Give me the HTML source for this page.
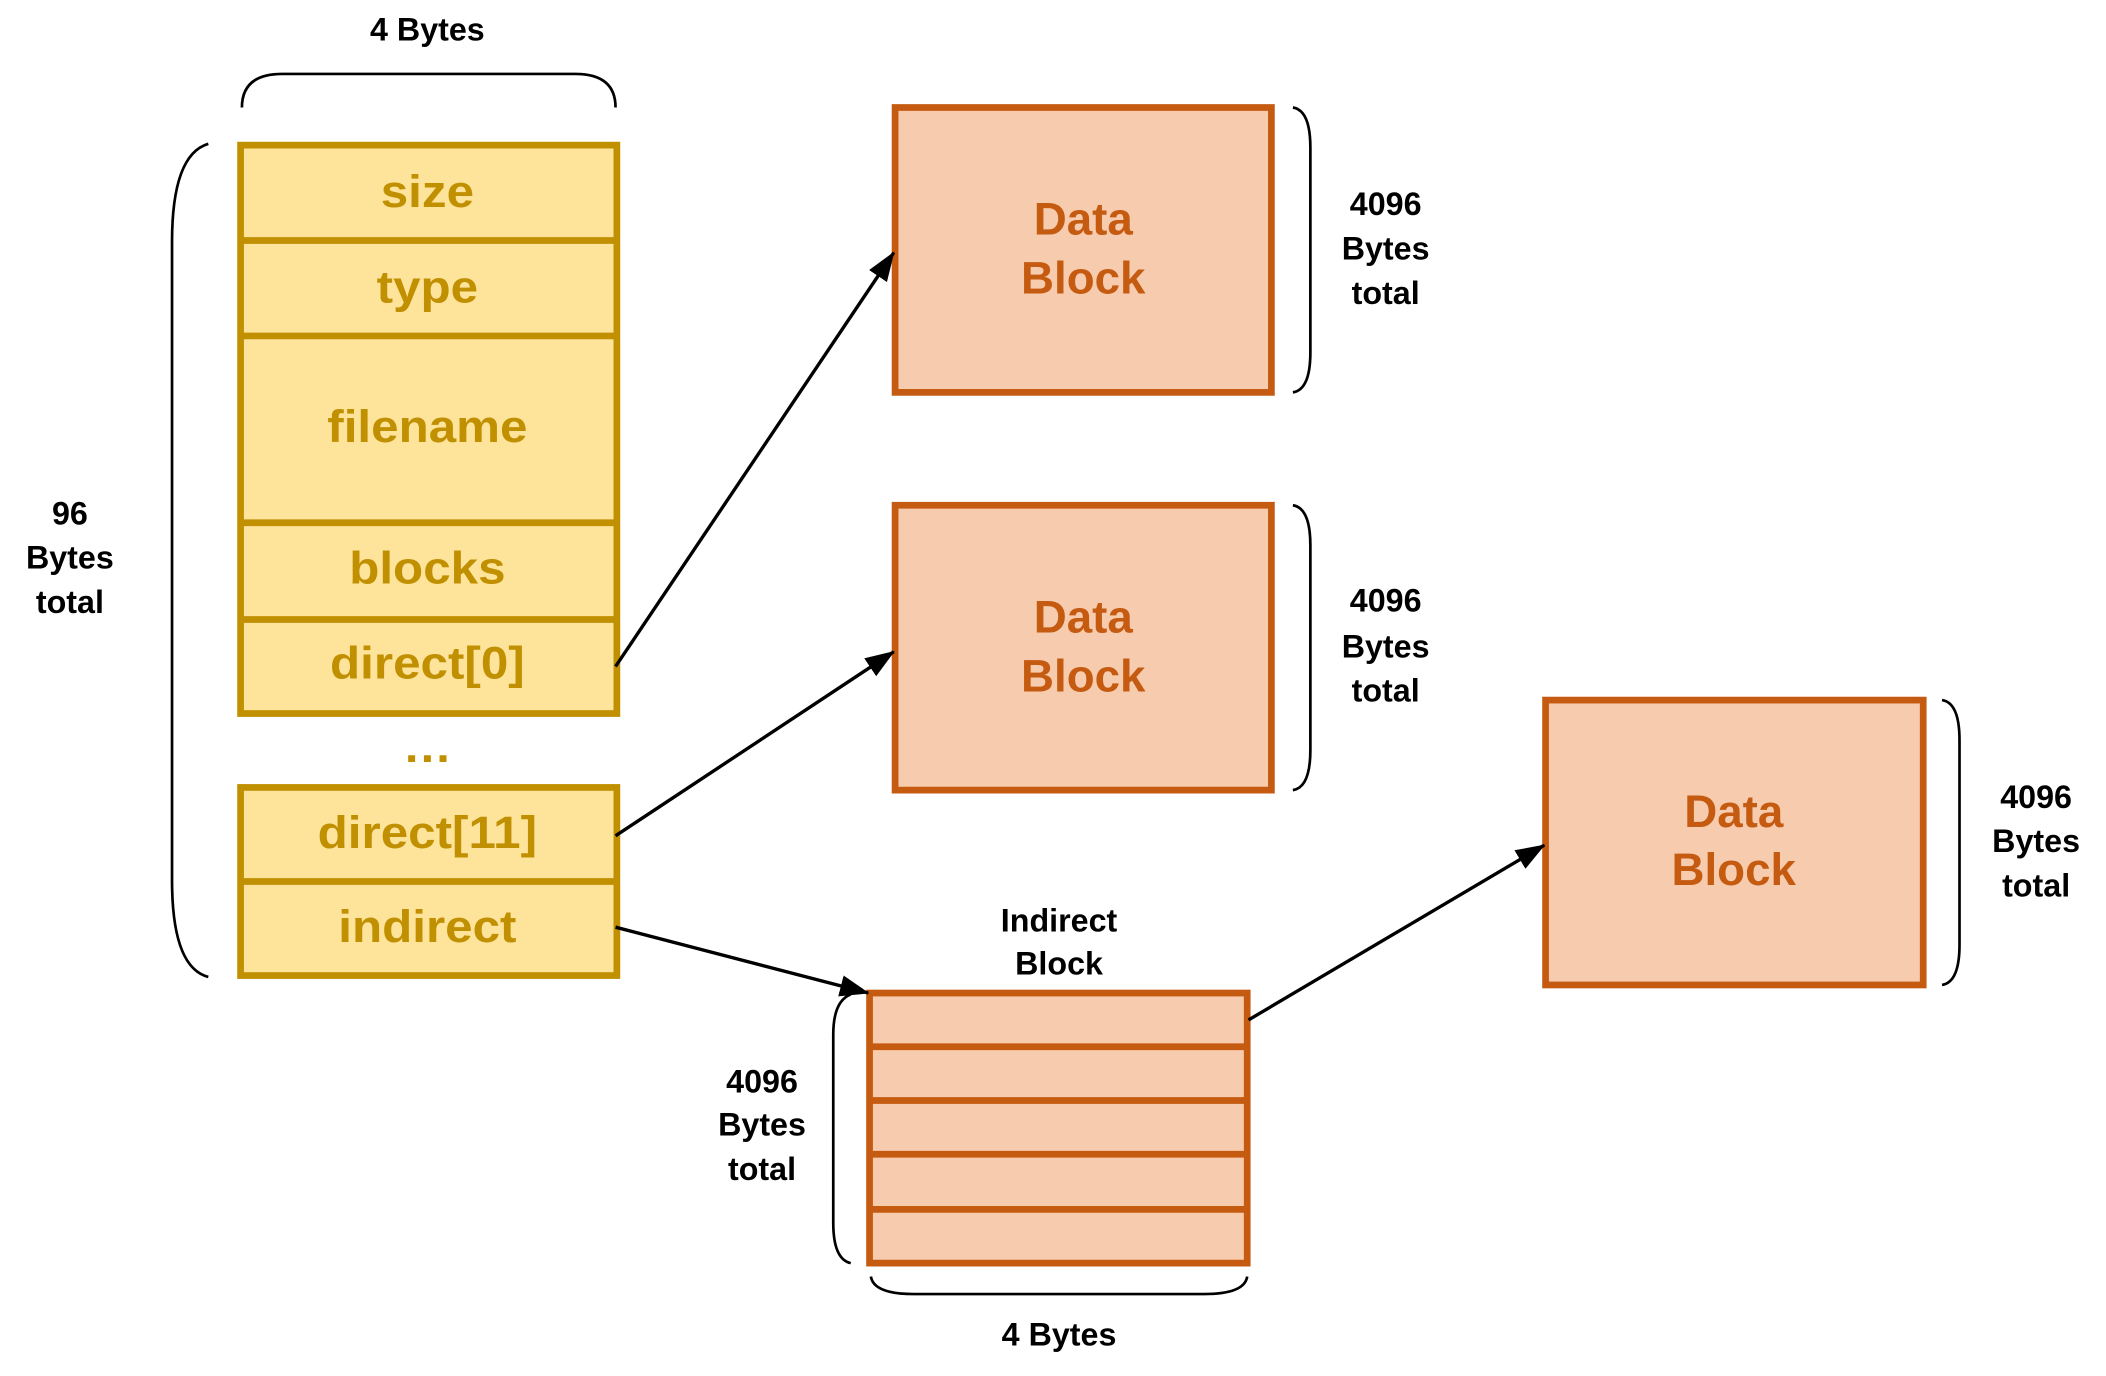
<!DOCTYPE html>
<html><head><meta charset="utf-8"><style>
html,body{margin:0;padding:0;background:#fff;}
svg{display:block;}
text{font-family:"Liberation Sans",Arial,sans-serif;font-weight:bold;text-anchor:middle;dominant-baseline:central;}
.g{fill:#C09000;font-size:34px;}
.o{fill:#C55A11;font-size:34px;}
.k{fill:#000;font-size:24px;}
.n{font-family:"Liberation Sans Narrow","Liberation Sans",sans-serif;}
</style></head><body>
<svg width="2106" height="1376" viewBox="0 0 1567 1024" preserveAspectRatio="none" xmlns="http://www.w3.org/2000/svg">
<defs>
<marker id="ah" markerWidth="22" markerHeight="16" refX="21" refY="8" orient="auto" markerUnits="userSpaceOnUse"><path d="M0,0 L22,8 L0,16 z" fill="#000"/></marker></defs>
<g fill="none" stroke="#000" stroke-width="2">
<path d="M180,80 Q180,55 210,55 L428,55 Q458,55 458,80"/>
<path d="M155,107 Q128,115 128,180 L128,655 Q128,720 155,727"/>
<path d="M962,80 Q975,82 975,110 L975,262 Q975,290 962,292"/>
<path d="M962,376 Q975,378 975,406 L975,558 Q975,586 962,588"/>
<path d="M1445,521 Q1458,523 1458,551 L1458,703 Q1458,731 1445,733"/>
<path d="M633,740 Q620,745 620,770 L620,910 Q620,937 633,940"/>
<path d="M648,950 Q650,963 680,963 L896,963 Q926,963 928,950"/>
</g>
<g stroke="#C09000" stroke-width="5" fill="#FEE39B">
<rect x="179" y="108" width="280" height="423"/>
<rect x="179" y="586" width="280" height="140"/>
<line x1="179" y1="179" x2="459" y2="179"/><line x1="179" y1="250" x2="459" y2="250"/>
<line x1="179" y1="389" x2="459" y2="389"/><line x1="179" y1="461" x2="459" y2="461"/>
<line x1="179" y1="656" x2="459" y2="656"/>
</g>
<g transform="translate(318,0) scale(1.08,1) translate(-318,0)">
<text class="g" x="318" y="143">size</text>
<text class="g" x="318" y="214">type</text>
<text class="g" x="318" y="318">filename</text>
<text class="g" x="318" y="423">blocks</text>
<text class="g" x="318" y="494">direct[0]</text>
<text class="g" x="318" y="556">…</text>
<text class="g" x="318" y="620">direct[11]</text>
<text class="g" x="318" y="690">indirect</text>
</g>
<g stroke="#C55A11" stroke-width="5" fill="#F7CBAD">
<rect x="666" y="80" width="280" height="212"/>
<rect x="666" y="376" width="280" height="212"/>
<rect x="1150" y="521" width="281" height="212"/>
<rect x="647" y="739" width="281" height="201"/>
<line x1="647" y1="779" x2="928" y2="779"/><line x1="647" y1="819" x2="928" y2="819"/>
<line x1="647" y1="859" x2="928" y2="859"/><line x1="647" y1="900" x2="928" y2="900"/>
</g>
<text class="o n" x="806" y="163">Data</text><text class="o n" x="806" y="207">Block</text>
<text class="o n" x="806" y="459">Data</text><text class="o n" x="806" y="503">Block</text>
<text class="o n" x="1290" y="604">Data</text><text class="o n" x="1290" y="647">Block</text>
<text class="k" x="318" y="22">4 Bytes</text>
<text class="k" x="52" y="382">96</text><text class="k" x="52" y="415">Bytes</text><text class="k" x="52" y="448">total</text>
<text class="k n" x="1031" y="152">4096</text><text class="k n" x="1031" y="185">Bytes</text><text class="k n" x="1031" y="218">total</text>
<text class="k n" x="1031" y="447">4096</text><text class="k n" x="1031" y="481">Bytes</text><text class="k n" x="1031" y="514">total</text>
<text class="k n" x="1515" y="593">4096</text><text class="k n" x="1515" y="626">Bytes</text><text class="k n" x="1515" y="659">total</text>
<text class="k n" x="567" y="805">4096</text><text class="k n" x="567" y="837">Bytes</text><text class="k n" x="567" y="870">total</text>
<text class="k n" x="788" y="685">Indirect</text><text class="k n" x="788" y="717">Block</text>
<text class="k n" x="788" y="993">4 Bytes</text>
<g stroke="#000" stroke-width="2.5" fill="none">
<line x1="458" y1="496" x2="665" y2="188" marker-end="url(#ah)"/>
<line x1="458" y1="622" x2="665" y2="485" marker-end="url(#ah)"/>
<line x1="458" y1="690" x2="646" y2="739" marker-end="url(#ah)"/>
<line x1="929" y1="759" x2="1149" y2="629" marker-end="url(#ah)"/>
</g>
</svg>
</body></html>
